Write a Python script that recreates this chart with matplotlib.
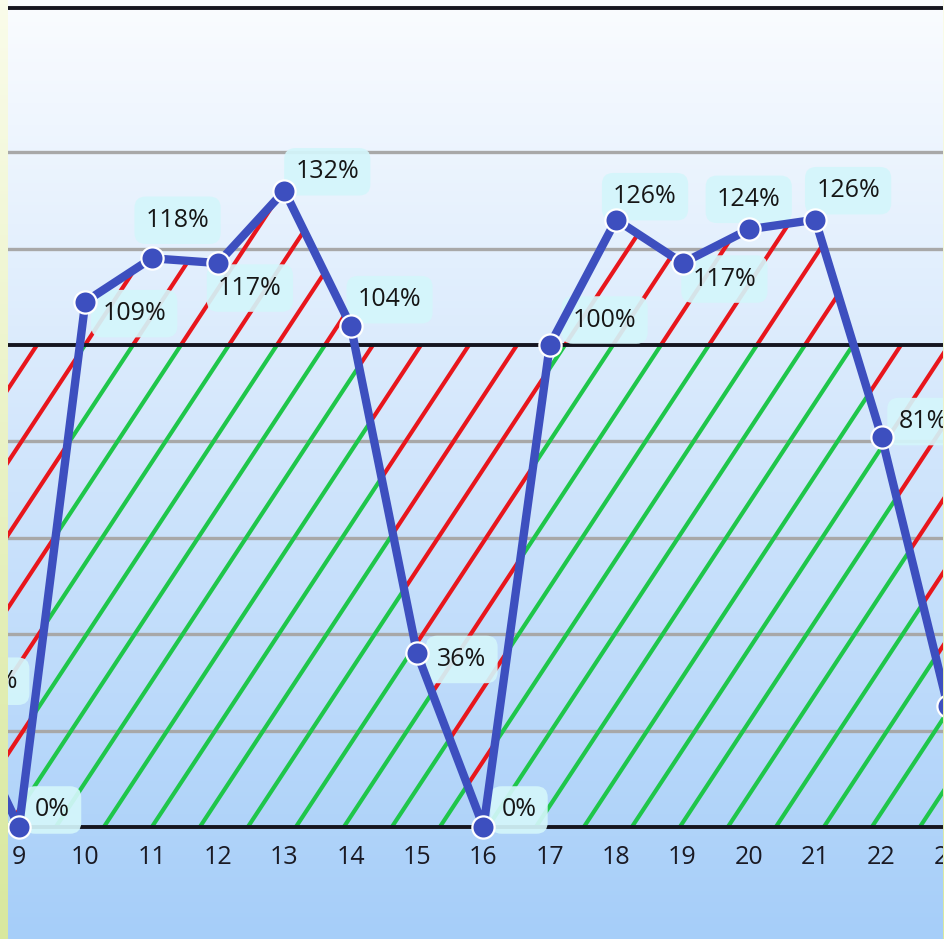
import numpy as np
import matplotlib
matplotlib.use("Agg")
import matplotlib.pyplot as plt
from matplotlib.collections import LineCollection
from matplotlib.patches import Polygon

# data
days = [8, 9, 10, 11, 12, 13, 14, 15, 16, 17, 18, 19, 20, 21, 22, 23]
load = [29, 0, 109, 118, 117, 132, 104, 36, 0, 100, 126, 117, 124, 126, 81, 25]
tick_days = list(range(9, 24))
grid_levels = [20, 40, 60, 80, 120, 140]
black_levels = [0, 100, 170]
target = 100

# label offsets in pixels (dx to text left, dy to text centre, up positive)
label_dx = [16, 16, 17, -6, 0, 11, 7, 20, 18, 23, -3, 10, -32, 1, 17, 17]
label_dy = [6, 17, -12, 38, -25, 19, 26, -6, 17, 25, 23, -16, 30, 29, 15, 15]

plt.rcParams['font.family'] = ['Open Sans', 'DejaVu Sans']

fig = plt.figure(figsize=(9.45, 9.39), dpi=100)
ax = fig.add_axes([0, 0, 1, 1])
x0, x1 = 8.7136, 22.956
y0, y1 = -23.24, 171.58
ax.set_xlim(x0, x1)
ax.set_ylim(y0, y1)
ax.axis('off')

# background gradient
top = np.array([250, 252, 255]) / 255
bot = np.array([166, 206, 249]) / 255
t = np.linspace(0, 1, 256)[:, None]
grad = (top[None, :] * (1 - t) + bot[None, :] * t)[:, None, :]
ax.imshow(grad, extent=[x0, x1, y0, y1], aspect='auto', zorder=0, origin='upper')

for lv in grid_levels:
    ax.axhline(lv, color='#a8a8a8', lw=2.4, zorder=1)
for lv in black_levels:
    ax.axhline(lv, color='#15151f', lw=2.8, zorder=3)

# hatch regions
x = np.array(days, dtype=float)
y = np.array(load, dtype=float)
xd = np.linspace(x.min(), x.max(), 3001)
yd = np.interp(xd, x, y)
green_poly = np.vstack([np.column_stack([xd, np.minimum(yd, target)]),
                        np.column_stack([xd[::-1], np.zeros_like(xd)])])
red_poly = np.vstack([np.column_stack([xd, yd]),
                      np.column_stack([xd[::-1], np.full_like(xd, target)])])

px_x = 66.35   # pixels per day
px_y = 4.82    # pixels per percent
k = (px_y / px_x) / 1.52
spacing = 48.0 / px_x
c0 = 9 + (88 - 19) / px_x
cs = c0 + spacing * np.arange(-30, 30)
segs = [[(c, -5), (c + k * 180, 175)] for c in cs]

for poly, col in [(green_poly, '#1fc64a'), (red_poly, '#e8161c')]:
    patch = Polygon(poly, closed=True, facecolor='none', edgecolor='none')
    ax.add_patch(patch)
    lc = LineCollection(segs, colors=col, linewidths=3.0, zorder=2)
    ax.add_collection(lc)
    lc.set_clip_path(patch)

# line and markers
ax.plot(x, y, color='#3d4fbf', lw=6.0, zorder=5, solid_capstyle='round')
ax.plot(x, y, 'o', ms=16, color='#3d4fbf', mec='white', mew=1.6, zorder=6)

for xi, yi, dx, dy in zip(days, load, label_dx, label_dy):
    ax.annotate(f"{yi}%", (xi, yi), xytext=(dx, dy), textcoords='offset pixels',
                ha='left', va='center', fontsize=18, color='#161616', zorder=4,
                annotation_clip=False, clip_on=True,
                bbox=dict(boxstyle='round,pad=0.45,rounding_size=0.45',
                          fc='#d4f6fb', ec='none', alpha=0.92))

for d in tick_days:
    ax.text(d, -6.43, str(d), ha='center', va='center', fontsize=18,
            color='#1a1a24', zorder=4)

# pale side strips
sy = np.linspace(0, 1, 256)[:, None]
s_top = np.array([250, 252, 234]) / 255
s_bot = np.array([216, 232, 158]) / 255
strip = (s_top[None, :] * (1 - sy) + s_bot[None, :] * sy)[:, None, :]
for rect in ([0, 0, 8 / 945, 1], [943 / 945, 0, 2 / 945, 1]):
    sax = fig.add_axes(rect, zorder=10)
    sax.imshow(strip, aspect='auto', extent=[0, 1, 0, 1])
    sax.axis('off')

fig.savefig('out.png', dpi=100)
